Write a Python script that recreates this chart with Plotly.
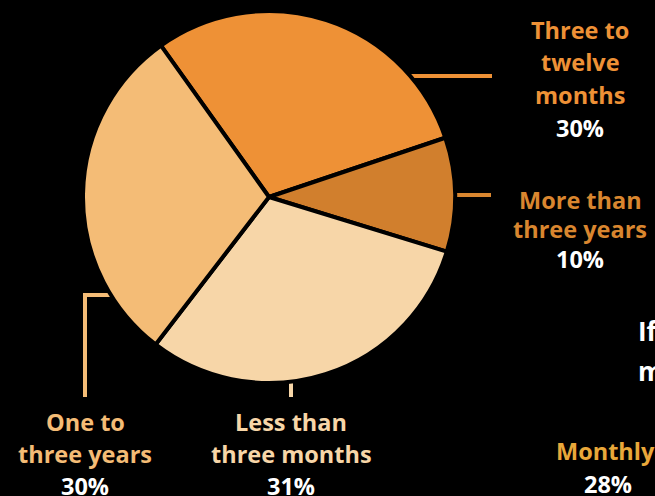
import plotly.graph_objects as go

# ---- data ----
labels = ["Three to twelve months", "More than three years",
          "Less than three months", "One to three years"]
values = [30, 10, 31, 30]
label_lines = [["Three to", "twelve", "months"],
               ["More than", "three years"],
               ["Less than", "three months"],
               ["One to", "three years"]]
slice_colors = ["#EE9136", "#D17F2D", "#F7D6A8", "#F4BC76"]
text_colors = ["#EE9136", "#D9862F", "#F7D6A8", "#F4BC76"]

side_title = ["If", "m"]
side_labels = ["Monthly"]
side_values = [28]

W, H = 655, 496
FONT = "Open Sans"
FS = 23.5


def px(x):
    return x / W


def py(y):
    return 1 - y / H


cx, cy, r = 269, 197, 186

fig = go.Figure(go.Pie(
    labels=labels, values=values, sort=False, direction="clockwise",
    rotation=-35.5, textinfo="none", hoverinfo="skip", showlegend=False,
    marker=dict(colors=slice_colors, line=dict(color="black", width=4)),
    domain=dict(x=[px(cx - r), px(cx + r)], y=[py(cy + r), py(cy - r)]),
))

# label blocks: (center x, first line y, line spacing)
blocks = [(580, 30, 32.5), (580, 200, 29.5), (291, 422, 32), (85, 422, 32)]
annotations = []
for i, (bx, by, dy) in enumerate(blocks):
    lines = label_lines[i] + [f"{values[i]}%"]
    for j, t in enumerate(lines):
        col = "white" if j == len(lines) - 1 else text_colors[i]
        annotations.append(dict(
            x=px(bx), y=py(by + j * dy), xref="paper", yref="paper",
            text=t, showarrow=False, xanchor="center", yanchor="middle",
            font=dict(family=FONT, size=FS, color=col, weight=700)))

# cut-off neighbouring chart text
annotations.append(dict(x=px(636), y=py(331), xref="paper", yref="paper",
                        text=side_title[0], showarrow=False, xanchor="left",
                        yanchor="middle",
                        font=dict(family=FONT, size=26, color="white", weight=700)))
annotations.append(dict(x=px(636), y=py(371), xref="paper", yref="paper",
                        text=side_title[1], showarrow=False, xanchor="left",
                        yanchor="middle",
                        font=dict(family=FONT, size=26, color="white", weight=700)))
annotations.append(dict(x=px(554), y=py(451), xref="paper", yref="paper",
                        text=side_labels[0], showarrow=False, xanchor="left",
                        yanchor="middle",
                        font=dict(family=FONT, size=FS, color="#E9A83A", weight=700)))
annotations.append(dict(x=px(608), y=py(484), xref="paper", yref="paper",
                        text=f"{side_values[0]}%", showarrow=False, xanchor="center",
                        yanchor="middle",
                        font=dict(family=FONT, size=FS, color="white", weight=700)))

lw = 4
shapes = [
    # Three to twelve months
    dict(type="line", x0=px(408), y0=py(76), x1=px(492), y1=py(76),
         line=dict(color=text_colors[0], width=lw)),
    # More than three years
    dict(type="line", x0=px(452), y0=py(195), x1=px(491), y1=py(195),
         line=dict(color=text_colors[1], width=lw)),
    # Less than three months
    dict(type="line", x0=px(291), y0=py(380), x1=px(291), y1=py(397),
         line=dict(color=text_colors[2], width=lw)),
    # One to three years
    dict(type="path",
         path=f"M {px(112)},{py(295)} L {px(85)},{py(295)} L {px(85)},{py(397)}",
         line=dict(color=text_colors[3], width=lw)),
]
for s in shapes:
    s["xref"] = "paper"
    s["yref"] = "paper"
    s["layer"] = "below"

fig.update_layout(
    width=W, height=H, margin=dict(l=0, r=0, t=0, b=0),
    paper_bgcolor="black", plot_bgcolor="black",
    annotations=annotations, shapes=shapes,
)

fig.write_html(
    "out.html",
    config={"displayModeBar": False},
    post_script="document.body.style.margin='0';document.body.style.background='black';",
)
